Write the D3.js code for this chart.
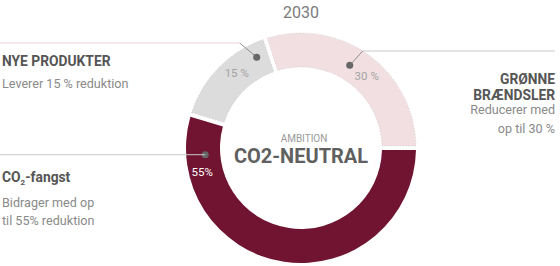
<!DOCTYPE html>
<html>
<head>
<meta charset="utf-8">
<script src="https://cdn.jsdelivr.net/npm/d3@7"></script>
<style>
  body { margin: 0; background: #fff; }
  text { font-family: Roboto, "Open Sans", sans-serif; }
</style>
</head>
<body>
<div id="viz"></div>
<script>
// data
var segments = ["CO2-fangst", "Nye produkter", "Grønne brændsler"];
var shares = [55, 15, 30];
var shareLabels = ["55%", "15 %", "30 %"];
var colors = ["#701432", "#dcdcdd", "#f2dfe2"];

var width = 560, height = 266;
var cx = 301, cy = 148, rOuter = 115, rInner = 81;

var svg = d3.select("#viz")
  .append("svg")
    .attr("width", width)
    .attr("height", height);

var g = svg.append("g")
    .attr("transform", "translate(" + cx + "," + cy + ")");

var pie = d3.pie()
  .sort(null)
  .startAngle(Math.PI / 2)
  .endAngle(Math.PI / 2 + 2 * Math.PI)
  .padAngle(0.03)
  .value(function(d) { return d; });

var arc = d3.arc()
  .innerRadius(rInner)
  .outerRadius(rOuter);

var arcs = pie(shares);

g.selectAll("path.slice")
  .data(arcs)
  .enter()
  .append("path")
    .attr("class", "slice")
    .attr("d", arc)
    .style("fill", function(d, i) { return colors[i]; })
    .style("stroke", function(d, i) { return i == 0 ? "none" : "#bdbdbd"; })
    .style("stroke-width", 0.6)
    .style("stroke-dasharray", "1,2");

// dot positions (angle in degrees clockwise from top, radius)
var dotPos = [
  {a: 266, r: 96},
  {a: 334, r: 101},
  {a: 30.5, r: 96}
];
function pt(p) {
  var a = p.a * Math.PI / 180;
  return [p.r * Math.sin(a), -p.r * Math.cos(a)];
}

var p0 = pt(dotPos[0]), p1 = pt(dotPos[1]), p2 = pt(dotPos[2]);

// CO2 line straight left
svg.append("line")
  .attr("x1", 0).attr("x2", cx + p0[0])
  .attr("y1", cy + p0[1]).attr("y2", cy + p0[1])
  .style("stroke", "#c9c9c9").style("stroke-width", 1);

// nye produkter: kink then left
var k1 = [cx + p1[0] - 17, 43];
svg.append("line")
  .attr("x1", 0).attr("y1", 43)
  .attr("x2", k1[0]).attr("y2", 43)
  .style("stroke", "#ecd3d8").style("stroke-width", 1);
svg.append("line")
  .attr("x1", k1[0]).attr("y1", k1[1])
  .attr("x2", cx + p1[0]).attr("y2", cy + p1[1])
  .style("stroke", "#777").style("stroke-width", 0.8);

// groenne: kink then right
var k2 = [cx + p2[0] + 13, 51];
svg.append("line")
  .attr("x1", k2[0]).attr("y1", k2[1])
  .attr("x2", 555).attr("y2", 51)
  .style("stroke", "#c9c9c9").style("stroke-width", 1);
svg.append("line")
  .attr("x1", k2[0]).attr("y1", k2[1])
  .attr("x2", cx + p2[0]).attr("y2", cy + p2[1])
  .style("stroke", "#777").style("stroke-width", 0.8);

// dots
g.selectAll("circle.dot")
  .data(dotPos)
  .enter()
  .append("circle")
    .attr("class", "dot")
    .attr("cx", function(d) { return pt(d)[0]; })
    .attr("cy", function(d) { return pt(d)[1]; })
    .attr("r", 3.5)
    .style("fill", "#666");

// percentage labels, near the dots
var labelOff = [[-3, 21], [-20, 20], [17, 15]];
g.selectAll("text.pct")
  .data(dotPos)
  .enter()
  .append("text")
    .attr("class", "pct")
    .attr("x", function(d, i) { return pt(d)[0] + labelOff[i][0]; })
    .attr("y", function(d, i) { return pt(d)[1] + labelOff[i][1]; })
    .attr("text-anchor", "middle")
    .style("font-size", "11.5px")
    .style("fill", function(d, i) { return i == 0 ? "#fff" : "#a3a3a3"; })
    .text(function(d, i) { return shareLabels[i]; });

// center text
g.append("text")
  .attr("x", 3).attr("y", -6)
  .attr("text-anchor", "middle")
  .style("font-size", "10px")
  .style("fill", "#9a9a9a")
  .text("AMBITION");
g.append("text")
  .attr("x", 0).attr("y", 15)
  .attr("text-anchor", "middle")
  .style("font-size", "20px")
  .style("font-weight", "bold")
  .style("fill", "#606060")
  .text("CO2-NEUTRAL");

// title
svg.append("text")
  .attr("x", 301).attr("y", 18)
  .attr("text-anchor", "middle")
  .style("font-size", "16px")
  .style("fill", "#7a7a7a")
  .text("2030");

// side annotations
function block(x, anchor, lines) {
  lines.forEach(function(l) {
    var t = svg.append("text")
      .attr("x", x).attr("y", l.y)
      .attr("text-anchor", anchor)
      .style("font-size", l.bold ? "13.8px" : "12.6px")
      .style("font-weight", l.bold ? "bold" : "normal")
      .style("fill", l.bold ? "#555" : "#8a8a8a");
    if (l.sub) {
      t.append("tspan").text(l.text);
      t.append("tspan").attr("dy", 3).style("font-size", "8px").text(l.sub);
      t.append("tspan").attr("dy", -3).text(l.rest);
    } else {
      t.text(l.text);
    }
  });
}

block(2, "start", [
  {y: 66, text: "NYE PRODUKTER", bold: true},
  {y: 88, text: "Leverer 15 % reduktion"}
]);
block(2, "start", [
  {y: 182, text: "CO", sub: "2", rest: "-fangst", bold: true},
  {y: 207, text: "Bidrager med op"},
  {y: 225, text: "til 55% reduktion"}
]);
block(555, "end", [
  {y: 84, text: "GRØNNE", bold: true},
  {y: 100, text: "BRÆNDSLER", bold: true},
  {y: 114, text: "Reducerer med"},
  {y: 133, text: "op til 30 %"}
]);
</script>
</body>
</html>
